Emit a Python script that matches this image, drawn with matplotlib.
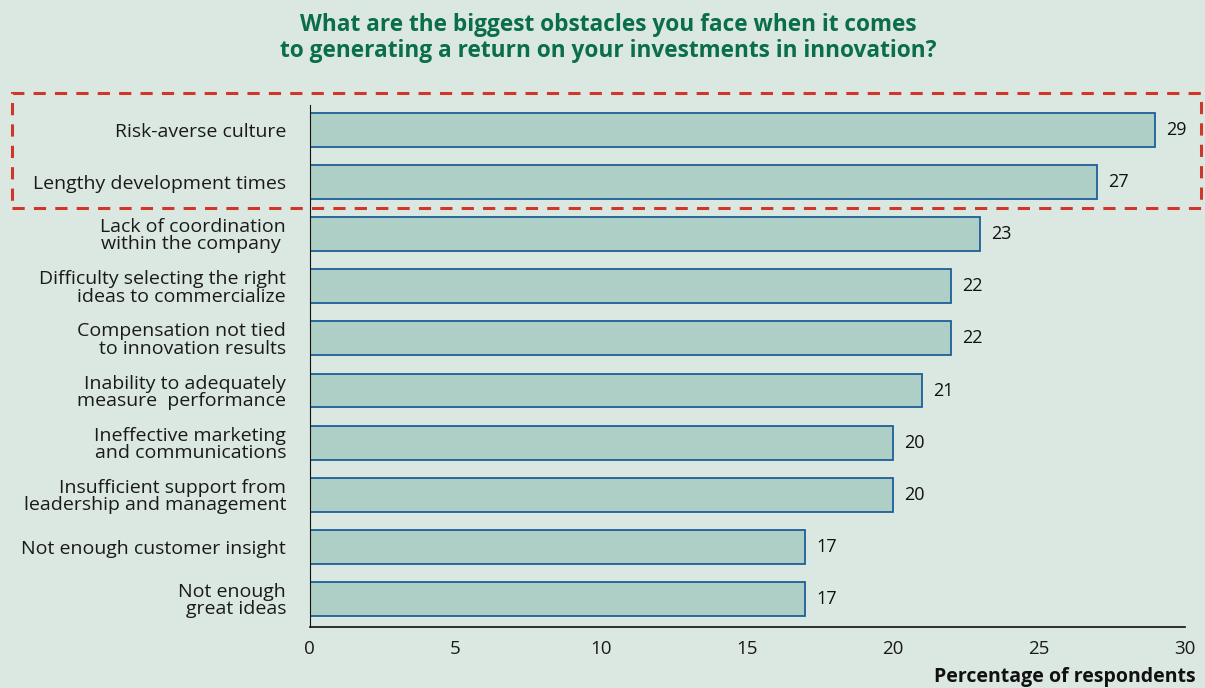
import matplotlib.pyplot as plt
from matplotlib.patches import Rectangle

# survey answers, top to bottom
obstacles = ['Risk-averse culture',
             'Lengthy development times',
             'Lack of coordination\nwithin the company ',
             'Difficulty selecting the right\nideas to commercialize',
             'Compensation not tied\nto innovation results',
             'Inability to adequately\nmeasure  performance',
             'Ineffective marketing\nand communications',
             'Insufficient support from\nleadership and management',
             'Not enough customer insight',
             'Not enough\ngreat ideas']
pct = [29, 27, 23, 22, 22, 21, 20, 20, 17, 17]
xticks = [0, 5, 10, 15, 20, 25, 30]

bg = '#dbe8e2'
plt.rcParams['font.family'] = ['Open Sans', 'DejaVu Sans']

fig = plt.figure(figsize=(12.05, 6.88), dpi=100, facecolor=bg)
ax = fig.add_axes([0.257, 0.0886, 0.726, 0.7588], facecolor=bg)

ypos = list(range(len(obstacles)))
ax.barh(ypos, pct, height=0.65, color='#aecfc6', edgecolor='#1d5f99', linewidth=1.3)
for y, v in zip(ypos, pct):
    ax.text(v + 0.38, y, str(v), va='center', ha='left', fontsize=13, color='#111111')

ax.set_ylim(9.54, -0.48)
ax.set_xlim(0, 30)
ax.set_yticks(ypos)
ax.set_yticklabels(obstacles, fontsize=14, color='#1a1a1a', linespacing=0.95)
ax.set_xticks(xticks)
ax.set_xticklabels([str(t) for t in xticks], fontsize=13.5, color='#1a1a1a')
ax.tick_params(axis='y', length=0, pad=17)
ax.tick_params(axis='x', length=0, pad=9)

for s in ['top', 'right']:
    ax.spines[s].set_visible(False)
ax.spines['left'].set_color('#111111')
ax.spines['bottom'].set_color('#111111')
ax.spines['bottom'].set_linewidth(1.2)

fig.text(0.992, 0.002, 'Percentage of respondents', ha='right', va='bottom',
         fontsize=14, fontweight='bold', color='#111111')
fig.text(0.505, 0.981, 'What are the biggest obstacles you face when it comes\n'
         'to generating a return on your investments in innovation?',
         ha='center', va='top', fontsize=16.3, fontweight='bold', color='#0a6e48',
         linespacing=1.08)

# dashed highlight around the top two answers
box = Rectangle((12 / 1205, 1 - 208 / 688), (1201 - 12) / 1205, 115 / 688,
                transform=fig.transFigure, fill=False, edgecolor='#d0372a',
                linestyle=(0, (4, 3)), linewidth=2.2, clip_on=False)
fig.add_artist(box)

fig.savefig('out.png', dpi=100, facecolor=bg)
